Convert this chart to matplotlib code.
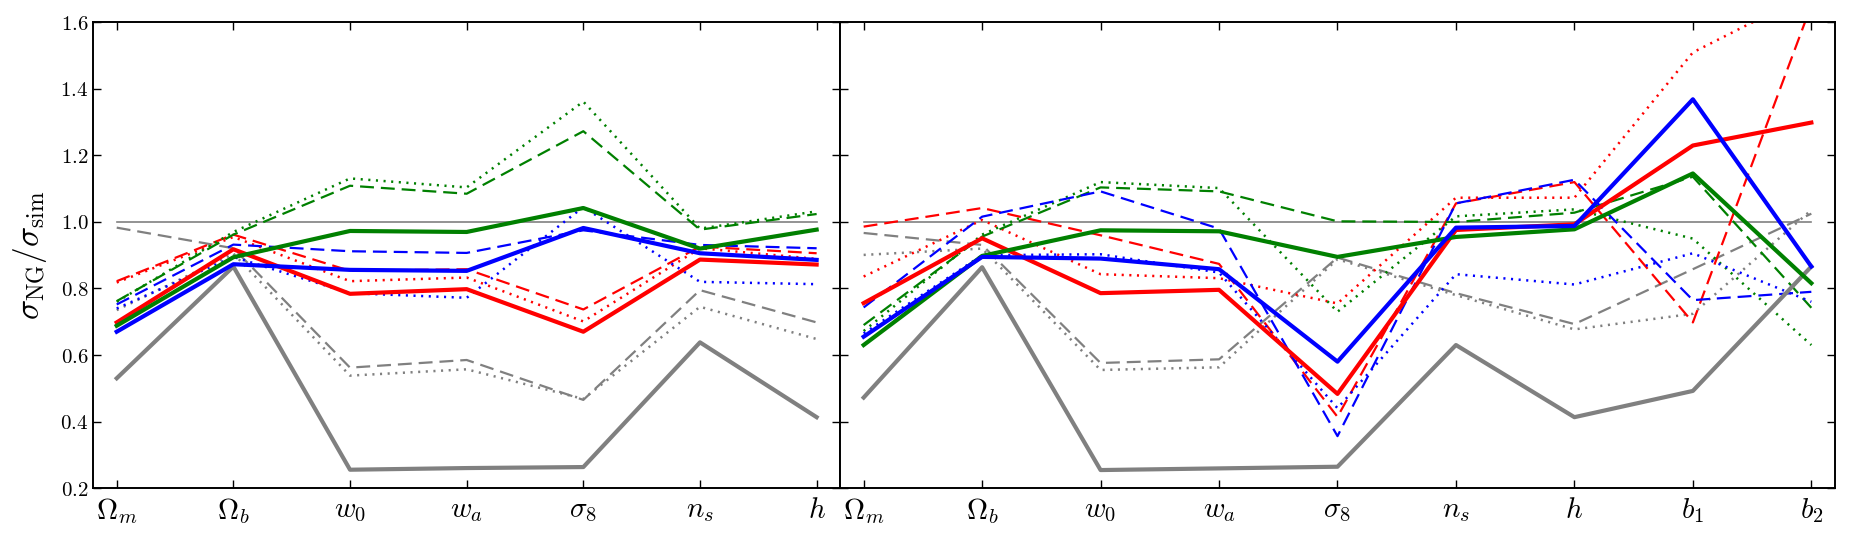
import numpy as np
import matplotlib
matplotlib.use("Agg")
import matplotlib.pyplot as plt

plt.rcParams["mathtext.fontset"] = "cm"
plt.rcParams["font.family"] = "serif"
plt.rcParams["font.serif"] = ["DejaVu Serif"]
plt.rcParams["lines.scale_dashes"] = False

params_L = [r"$\Omega_m$", r"$\Omega_b$", r"$w_0$", r"$w_a$", r"$\sigma_8$", r"$n_s$", r"$h$"]
params_R = params_L + [r"$b_1$", r"$b_2$"]

# left panel
gray_solid_L = [0.53, 0.866, 0.255, 0.26, 0.263, 0.638, 0.413]
gray_dash_L = [0.983, 0.921, 0.562, 0.585, 0.465, 0.795, 0.698]
gray_dot_L = [0.735, 0.905, 0.538, 0.557, 0.468, 0.745, 0.648]
red_solid_L = [0.698, 0.918, 0.784, 0.798, 0.670, 0.887, 0.872]
red_dash_L = [0.822, 0.962, 0.853, 0.858, 0.737, 0.926, 0.906]
red_dot_L = [0.818, 0.955, 0.822, 0.833, 0.701, 0.921, 0.889]
green_solid_L = [0.688, 0.894, 0.973, 0.970, 1.042, 0.920, 0.977]
green_dash_L = [0.762, 0.962, 1.109, 1.085, 1.273, 0.977, 1.024]
green_dot_L = [0.760, 0.970, 1.131, 1.104, 1.362, 0.980, 1.032]
blue_solid_L = [0.670, 0.873, 0.856, 0.853, 0.982, 0.906, 0.886]
blue_dash_L = [0.752, 0.932, 0.912, 0.907, 0.975, 0.931, 0.921]
blue_dot_L = [0.740, 0.895, 0.786, 0.772, 1.045, 0.820, 0.813]

# right panel
gray_solid_R = [0.472, 0.864, 0.254, 0.259, 0.264, 0.630, 0.413, 0.492, 0.866]
gray_dash_R = [0.967, 0.931, 0.576, 0.587, 0.893, 0.786, 0.693, 0.858, 1.025]
gray_dot_R = [0.901, 0.920, 0.555, 0.563, 0.888, 0.780, 0.677, 0.724, 1.036]
red_solid_R = [0.756, 0.951, 0.786, 0.796, 0.483, 0.976, 0.993, 1.230, 1.299]
red_dash_R = [0.986, 1.042, 0.960, 0.874, 0.414, 1.056, 1.120, 0.698, 1.652]
red_dot_R = [0.836, 1.006, 0.843, 0.831, 0.755, 1.073, 1.073, 1.510, 1.690]
green_solid_R = [0.630, 0.898, 0.975, 0.972, 0.895, 0.955, 0.978, 1.146, 0.816]
green_dash_R = [0.690, 0.956, 1.104, 1.092, 1.002, 1.000, 1.028, 1.136, 0.742]
green_dot_R = [0.672, 0.962, 1.120, 1.102, 0.730, 1.017, 1.038, 0.950, 0.630]
blue_solid_R = [0.655, 0.895, 0.890, 0.858, 0.580, 0.983, 0.988, 1.369, 0.866]
blue_dash_R = [0.743, 1.016, 1.092, 0.980, 0.356, 1.056, 1.127, 0.765, 0.790]
blue_dot_R = [0.665, 0.900, 0.903, 0.848, 0.440, 0.843, 0.812, 0.906, 0.760]

DASH = (0, (10, 5))
DOT = (0, (1.5, 4))

series_L = [
    ("gray", gray_solid_L, gray_dash_L, gray_dot_L),
    ("red", red_solid_L, red_dash_L, red_dot_L),
    ("green", green_solid_L, green_dash_L, green_dot_L),
    ("blue", blue_solid_L, blue_dash_L, blue_dot_L),
]
series_R = [
    ("gray", gray_solid_R, gray_dash_R, gray_dot_R),
    ("red", red_solid_R, red_dash_R, red_dot_R),
    ("green", green_solid_R, green_dash_R, green_dot_R),
    ("blue", blue_solid_R, blue_dash_R, blue_dot_R),
]

fig = plt.figure(figsize=(18.53, 5.39), dpi=100)
axL = fig.add_axes([0.0504, 0.0946, 0.4029, 0.8637])
axR = fig.add_axes([0.4533, 0.0946, 0.5370, 0.8637], sharey=axL)


def draw(ax, labels, series):
    x = np.arange(len(labels))
    ax.plot(x, np.ones(len(labels)), color="gray", lw=1.2, zorder=1)
    for col, solid, dash, dot in series:
        ax.plot(x, dash, color=col, lw=1.6, linestyle=DASH, zorder=2)
        ax.plot(x, dot, color=col, lw=1.8, linestyle=DOT, zorder=2)
    for col, solid, dash, dot in series:
        ax.plot(x, solid, color=col, lw=3.0, zorder=3)
    ax.set_xlim(-0.2, len(labels) - 0.8)
    ax.set_xticks(x)
    ax.set_xticklabels(labels, fontsize=20)
    ax.tick_params(direction="in", length=6, width=1, top=True, right=True,
                   labelsize=15)
    ax.tick_params(axis="x", labelsize=21, pad=6)
    for s in ax.spines.values():
        s.set_linewidth(1.4)


draw(axL, params_L, series_L)
draw(axR, params_R, series_R)

axL.set_ylim(0.2, 1.6)
yt = np.arange(0.2, 1.61, 0.2)
axL.set_yticks(yt)
axL.set_yticklabels([f"${v:.1f}$" for v in yt])
axR.tick_params(axis="y", labelleft=False)
axL.set_ylabel(r"$\sigma_{\rm NG}/\sigma_{\rm sim}$", fontsize=24, labelpad=8)

fig.savefig("out.png", dpi=100)
